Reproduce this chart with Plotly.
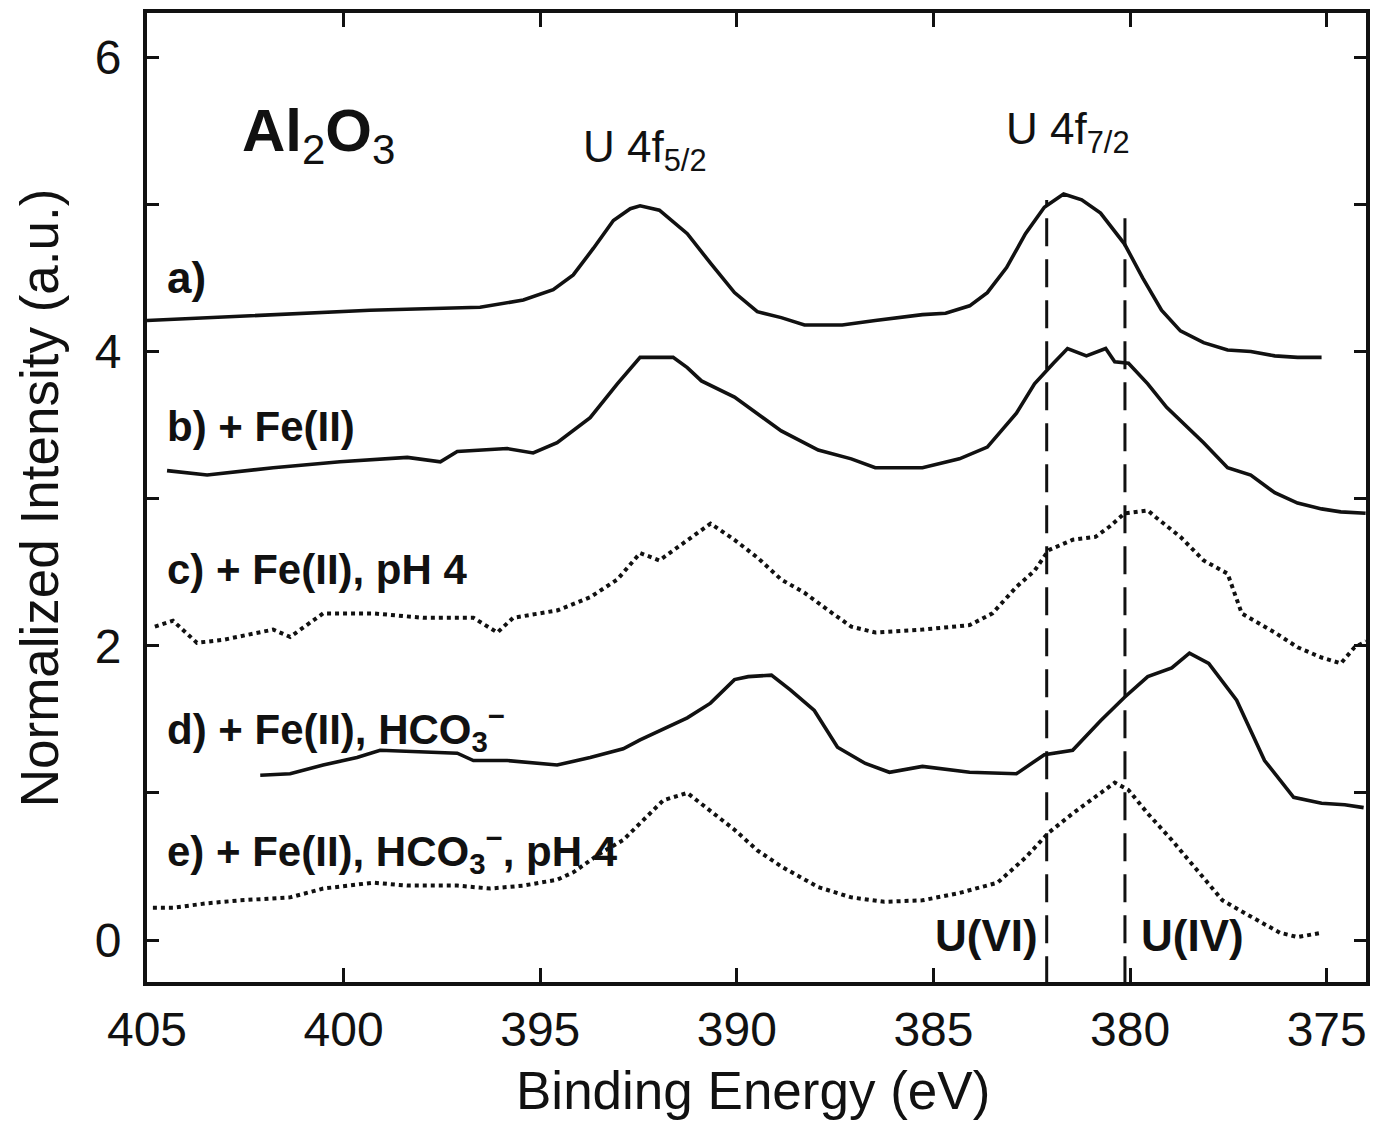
import plotly.graph_objects as go

# ---------------- data ----------------
energy_a = [405.0, 402.38, 399.33, 396.53, 395.43, 394.67, 394.16, 393.65, 393.14, 392.71, 392.46,
            391.97, 391.26, 390.67, 390.06, 389.48, 388.87, 388.28, 387.32, 386.48, 385.28, 384.69,
            384.08, 383.63, 383.14, 382.66, 382.18, 381.69, 381.23, 380.75, 380.14, 379.68, 379.20,
            378.72, 378.13, 377.52, 376.93, 376.32, 375.74, 375.13]
int_a = [4.21, 4.24, 4.28, 4.30, 4.35, 4.42, 4.52, 4.70, 4.89, 4.97, 4.99,
         4.96, 4.80, 4.60, 4.40, 4.27, 4.23, 4.18, 4.18, 4.21, 4.25, 4.26,
         4.31, 4.40, 4.57, 4.80, 4.98, 5.07, 5.03, 4.94, 4.73, 4.50, 4.28,
         4.14, 4.06, 4.01, 4.00, 3.97, 3.96, 3.96]

energy_b = [404.49, 403.47, 401.79, 400.09, 398.38, 397.54, 397.11, 395.84, 395.18, 394.57, 393.73,
            393.04, 392.46, 391.62, 391.26, 390.90, 390.06, 388.87, 387.93, 387.09, 386.48, 385.28,
            384.34, 383.63, 382.89, 382.43, 381.95, 381.59, 381.11, 380.62, 380.39, 380.04, 379.55,
            379.07, 378.13, 377.52, 376.93, 376.32, 375.74, 375.13, 374.64, 374.01]
int_b = [3.19, 3.16, 3.21, 3.25, 3.28, 3.25, 3.32, 3.34, 3.31, 3.38, 3.55,
         3.78, 3.96, 3.96, 3.89, 3.80, 3.69, 3.46, 3.33, 3.27, 3.21, 3.21,
         3.27, 3.35, 3.58, 3.78, 3.92, 4.02, 3.97, 4.02, 3.93, 3.92, 3.78,
         3.62, 3.38, 3.21, 3.16, 3.04, 2.97, 2.93, 2.91, 2.90]

energy_c = [404.80, 404.34, 403.73, 403.07, 401.79, 401.36, 400.52, 399.25, 397.98, 396.70, 396.09,
            395.69, 394.57, 393.73, 393.04, 392.46, 391.97, 391.26, 390.67, 390.06, 389.48, 388.87,
            388.28, 387.67, 387.09, 386.48, 385.28, 384.08, 383.50, 382.89, 382.43, 382.07, 381.46,
            380.88, 380.52, 380.14, 379.55, 379.33, 378.72, 378.13, 377.52, 377.16, 376.32, 375.74,
            375.13, 374.64, 374.29, 374.0]
int_c = [2.13, 2.17, 2.02, 2.04, 2.11, 2.06, 2.22, 2.22, 2.19, 2.19, 2.09,
         2.19, 2.24, 2.33, 2.45, 2.63, 2.58, 2.72, 2.83, 2.72, 2.60, 2.45,
         2.36, 2.24, 2.13, 2.09, 2.11, 2.14, 2.22, 2.40, 2.51, 2.65, 2.72,
         2.74, 2.81, 2.90, 2.92, 2.87, 2.74, 2.58, 2.49, 2.22, 2.09, 1.99,
         1.92, 1.88, 1.99, 2.03]

energy_d = [402.12, 401.36, 400.52, 399.66, 399.07, 397.98, 397.11, 396.70, 395.84, 394.57, 393.73,
            392.89, 392.46, 391.26, 390.67, 390.06, 389.71, 389.12, 388.64, 388.03, 387.44, 386.73,
            386.12, 385.28, 384.08, 382.89, 382.18, 381.46, 380.75, 380.14, 379.55, 378.94, 378.49,
            378.00, 377.29, 376.58, 375.84, 375.13, 374.54, 374.06]
int_d = [1.12, 1.13, 1.19, 1.24, 1.29, 1.28, 1.27, 1.22, 1.22, 1.19, 1.24,
         1.30, 1.36, 1.51, 1.61, 1.77, 1.79, 1.80, 1.70, 1.56, 1.31, 1.20,
         1.14, 1.18, 1.14, 1.13, 1.26, 1.29, 1.49, 1.65, 1.79, 1.85, 1.95,
         1.88, 1.63, 1.22, 0.97, 0.93, 0.92, 0.90]

energy_e = [404.85, 404.34, 403.47, 402.63, 401.36, 400.52, 399.25, 398.38, 397.11, 396.27, 395.43,
            394.57, 394.16, 393.47, 392.89, 392.46, 391.87, 391.26, 390.67, 390.06, 389.48, 388.87,
            387.93, 387.09, 386.25, 385.28, 384.34, 383.37, 382.66, 382.07, 381.46, 380.75, 380.39,
            380.04, 379.55, 378.94, 378.36, 377.65, 376.93, 376.19, 375.74, 375.13]
int_e = [0.22, 0.22, 0.25, 0.27, 0.29, 0.35, 0.39, 0.37, 0.37, 0.35, 0.37,
         0.41, 0.46, 0.59, 0.68, 0.79, 0.95, 1.00, 0.88, 0.75, 0.61, 0.50,
         0.36, 0.29, 0.26, 0.27, 0.32, 0.39, 0.56, 0.73, 0.86, 1.00, 1.07,
         1.02, 0.86, 0.68, 0.50, 0.27, 0.16, 0.05, 0.02, 0.05]

ref_energies = [382.12, 380.13]      # U(VI), U(IV) reference positions
ref_tops = [5.03, 4.97]

x_ticks = [405, 400, 395, 390, 385, 380, 375]
y_ticks = [0, 1, 2, 3, 4, 5, 6]
y_ticktext = ["0", "", "2", "", "4", "", "6"]

FONT = "Liberation Sans, Arial, sans-serif"
INK = "#111111"

fig = go.Figure()

series = [
    (energy_a, int_a, "solid"),
    (energy_b, int_b, "solid"),
    (energy_c, int_c, "dot"),
    (energy_d, int_d, "solid"),
    (energy_e, int_e, "dot"),
]
for ex, iy, dash in series:
    fig.add_trace(go.Scatter(x=ex, y=iy, mode="lines",
                             line=dict(color=INK, width=3.6 if dash == "solid" else 4, dash=dash),
                             showlegend=False, hoverinfo="skip"))

for e0, top in zip(ref_energies, ref_tops):
    fig.add_trace(go.Scatter(x=[e0, e0], y=[-0.3, top], mode="lines",
                             line=dict(color=INK, width=3, dash="28px,13px"),
                             showlegend=False, hoverinfo="skip"))

ann = []
def add(text, x, y, size, bold=False, xanchor="left", yanchor="middle"):
    ann.append(dict(text=f"<b>{text}</b>" if bold else text, x=x, y=y, xref="x", yref="y",
                    showarrow=False, xanchor=xanchor, yanchor=yanchor,
                    font=dict(family=FONT, size=size, color=INK)))

add("<b>Al</b><sub>2</sub><b>O</b><sub>3</sub>", 402.63, 5.47, 60)
add("U 4f<sub>5/2</sub>", 392.33, 5.37, 44, xanchor="center")
add("U 4f<sub>7/2</sub>", 381.59, 5.49, 44, xanchor="center")
add("a)", 404.54, 4.50, 44, bold=True)
add("b) + Fe(II)", 404.54, 3.49, 42, bold=True)
add("c) + Fe(II), pH 4", 404.54, 2.52, 42, bold=True)
add("d) + Fe(II), HCO<sub>3</sub><sup>−</sup>", 404.54, 1.44, 42, bold=True)
add("e) + Fe(II), HCO<sub>3</sub><sup>−</sup>, pH 4", 404.54, 0.61, 42, bold=True)
add("U(VI)", 382.28, 0.03, 44, bold=True, xanchor="right")
add("U(IV)", 379.78, 0.03, 44, bold=True)

# axis titles
ann.append(dict(text="Binding Energy (eV)", x=0.497, y=-0.112, xref="paper", yref="paper",
                showarrow=False, xanchor="center", yanchor="middle",
                font=dict(family=FONT, size=53, color=INK)))
ann.append(dict(text="Normalized Intensity (a.u.)", x=-0.088, y=0.50, xref="paper", yref="paper",
                showarrow=False, xanchor="center", yanchor="middle", textangle=-90,
                font=dict(family=FONT, size=53, color=INK)))

fig.update_layout(
    width=1374, height=1121,
    margin=dict(l=147, r=4, t=13, b=139),
    paper_bgcolor="white", plot_bgcolor="white",
    annotations=ann,
    font=dict(family=FONT, color=INK),
)
fig.update_xaxes(range=[405, 374], tickvals=x_ticks, ticktext=[str(v) for v in x_ticks],
                 ticks="inside", ticklen=14, tickwidth=3, tickcolor=INK,
                 showline=True, linewidth=4, linecolor=INK, mirror="ticks",
                 showgrid=False, zeroline=False, ticklabelstandoff=2,
                 tickfont=dict(family=FONT, size=48, color=INK))
fig.update_yaxes(range=[-0.285, 6.30], tickvals=y_ticks, ticktext=y_ticktext,
                 ticks="inside", ticklen=12, tickwidth=3, tickcolor=INK,
                 showline=True, linewidth=4, linecolor=INK, mirror="ticks",
                 showgrid=False, zeroline=False, ticklabelstandoff=12,
                 tickfont=dict(family=FONT, size=48, color=INK))

fig.write_html("out.html")
